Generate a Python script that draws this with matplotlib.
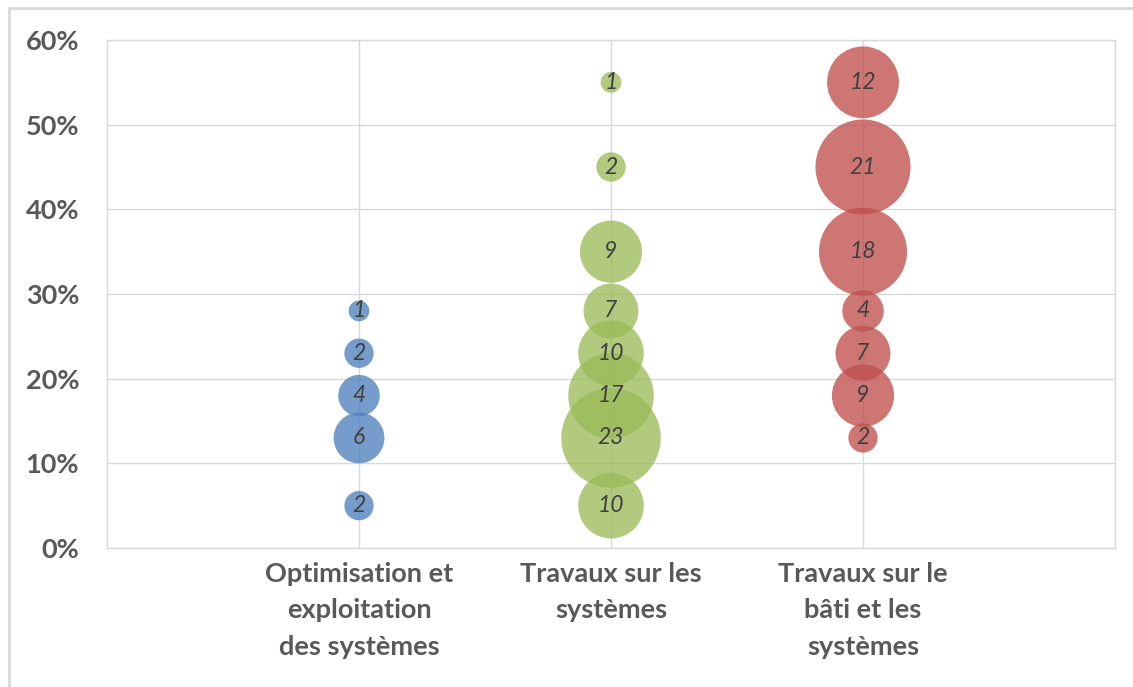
import numpy as np
import matplotlib
matplotlib.use("Agg")
import matplotlib.pyplot as plt
from matplotlib.patches import Rectangle

plt.rcParams["font.family"] = ["Lato", "DejaVu Sans"]

categories = ["Optimisation et\nexploitation\ndes systèmes",
              "Travaux sur les\nsystèmes",
              "Travaux sur le\nbâti et les\nsystèmes"]

# pourcentage (y) et effectif (taille de bulle) par groupe
opt_y = [28, 23, 18, 13, 5]
opt_n = [1, 2, 4, 6, 2]
sys_y = [55, 45, 35, 28, 23, 18, 13, 5]
sys_n = [1, 2, 9, 7, 10, 17, 23, 10]
bati_y = [55, 45, 35, 28, 23, 18, 13]
bati_n = [12, 21, 18, 4, 7, 9, 2]

colors = ["#4F81BD", "#9BBB59", "#C0504D"]
series = [(opt_y, opt_n), (sys_y, sys_n), (bati_y, bati_n)]

fig = plt.figure(figsize=(11.33, 6.87), dpi=100)
ax = fig.add_axes([107 / 1133, 1 - 548 / 687, (1115 - 107) / 1133, (548 - 40) / 687])

# cadre extérieur du graphique
fig.patches.append(Rectangle((9 / 1133, -0.05), 1.1, 1 - 8 / 687 + 0.05,
                             transform=fig.transFigure, fill=False,
                             ec="#D9D9D9", lw=2))

size_k = 223  # points^2 par unité d'effectif
for i, ((ys, ns), c) in enumerate(zip(series, colors)):
    x = np.full(len(ys), i + 1)
    ax.scatter(x, np.array(ys) / 100, s=np.array(ns) * size_k, color=c,
               alpha=0.78, edgecolors="none", zorder=3)
    for yy, nn in zip(ys, ns):
        ax.text(i + 1, yy / 100, str(nn), ha="center", va="center",
                fontsize=16.5, style="italic", color="#404040", zorder=4)

ax.set_xlim(0, 4)
ax.set_ylim(0, 0.6)
ax.set_yticks(np.arange(0, 0.61, 0.1))
ax.set_yticklabels([f"{int(round(v * 100))}%" for v in np.arange(0, 0.61, 0.1)])
ax.set_xticks([1, 2, 3])
ax.set_xticklabels(categories, linespacing=1.62)
ax.tick_params(length=0, labelsize=19.5, labelcolor="#595959")
ax.tick_params(axis="y", pad=20)
ax.tick_params(axis="x", pad=10)
for lab in ax.get_xticklabels() + ax.get_yticklabels():
    lab.set_fontweight("bold")

ax.grid(True, color="#D9D9D9", lw=1, zorder=0)
ax.set_axisbelow(True)
for sp in ax.spines.values():
    sp.set_color("#D9D9D9")
    sp.set_linewidth(1)

fig.savefig("out.png", dpi=100)
